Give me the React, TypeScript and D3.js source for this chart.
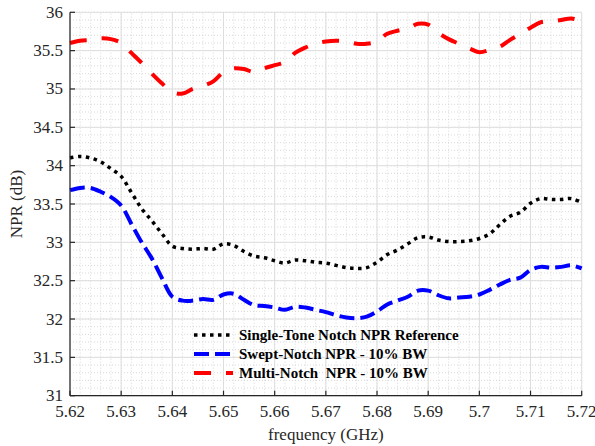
import React from "react";
import * as d3 from "d3";

// Frequency grid (GHz), 2 MHz steps
const freqs: number[] = [
  5.62, 5.622, 5.624, 5.626, 5.628, 5.63, 5.632, 5.634, 5.636, 5.638,
  5.64, 5.642, 5.644, 5.646, 5.648, 5.65, 5.652, 5.654, 5.656, 5.658,
  5.66, 5.662, 5.664, 5.666, 5.668, 5.67, 5.672, 5.674, 5.676, 5.678,
  5.68, 5.682, 5.684, 5.686, 5.688, 5.69, 5.692, 5.694, 5.696, 5.698,
  5.7, 5.702, 5.704, 5.706, 5.708, 5.71, 5.712, 5.714, 5.716, 5.718, 5.72,
];

// NPR (dB)
const singleTone: number[] = [
  34.1, 34.12, 34.1, 34.05, 33.96, 33.86, 33.65, 33.44, 33.28, 33.11,
  32.95, 32.92, 32.91, 32.92, 32.91, 32.98, 32.96, 32.88, 32.82, 32.8,
  32.76, 32.73, 32.77, 32.76, 32.74, 32.73, 32.7, 32.67, 32.66, 32.67,
  32.74, 32.84, 32.9, 32.98, 33.06, 33.07, 33.03, 33.01, 33.01, 33.02,
  33.05, 33.11, 33.23, 33.34, 33.39, 33.51, 33.57, 33.56, 33.56, 33.57, 33.52,
];
const sweptNotch: number[] = [
  33.68, 33.71, 33.71, 33.66, 33.59, 33.48, 33.24, 33.0, 32.79, 32.53,
  32.29, 32.24, 32.24, 32.26, 32.25, 32.32, 32.33, 32.25, 32.18, 32.17,
  32.15, 32.12, 32.16, 32.15, 32.12, 32.09, 32.05, 32.02, 32.01, 32.03,
  32.1, 32.19, 32.24, 32.29, 32.37, 32.37, 32.31, 32.27, 32.28, 32.29,
  32.32, 32.38, 32.45, 32.51, 32.54, 32.64, 32.68, 32.67, 32.68, 32.7, 32.66,
];
const multiNotch: number[] = [
  35.6, 35.63, 35.64, 35.66, 35.65, 35.6, 35.47, 35.34, 35.2, 35.07,
  34.96, 34.94, 35.0, 35.04, 35.1, 35.22, 35.27, 35.26, 35.22, 35.27,
  35.31, 35.35, 35.47, 35.54, 35.59, 35.62, 35.63, 35.62, 35.59, 35.59,
  35.62, 35.72, 35.76, 35.79, 35.85, 35.84, 35.73, 35.65, 35.59, 35.53,
  35.48, 35.51, 35.55, 35.64, 35.72, 35.8, 35.87, 35.88, 35.9, 35.92, 35.88,
];

const xTicks: number[] = [5.62, 5.63, 5.64, 5.65, 5.66, 5.67, 5.68, 5.69, 5.7, 5.71, 5.72];
const yTicks: number[] = [31, 31.5, 32, 32.5, 33, 33.5, 34, 34.5, 35, 35.5, 36];

const seriesNames: string[] = [
  "Single-Tone Notch NPR Reference",
  "Swept-Notch NPR - 10% BW",
  "Multi-Notch  NPR - 10% BW",
];

const W = 595;
const H = 446;
const m = { left: 70, right: 13.3, top: 12.3, bottom: 50.3 };
const SERIF = "'Liberation Serif', 'Times New Roman', Times, serif";

export default function App() {
  const x = d3.scaleLinear().domain([5.62, 5.72]).range([m.left, W - m.right]);
  const y = d3.scaleLinear().domain([31, 36]).range([H - m.bottom, m.top]);

  const line = d3
    .line<number>()
    .x((_, i) => x(freqs[i]))
    .y((v) => y(v))
    .curve(d3.curveCatmullRom.alpha(0.5));

  const xMinor = d3.range(5.62, 5.7201, 0.002).map((v) => +v.toFixed(4));
  const yMinor = d3.range(31, 36.001, 0.1).map((v) => +v.toFixed(2));

  const styles = [
    { stroke: "#000000", width: 3.5, dash: "3.5,4.5", data: singleTone },
    { stroke: "#0000ff", width: 4, dash: "15,6", data: sweptNotch },
    { stroke: "#ff0000", width: 4, dash: "17,15", data: multiNotch },
  ];

  const x0 = x.range()[0];
  const x1 = x.range()[1];
  const y0 = y.range()[0];
  const y1 = y.range()[1];
  const txt = { fontFamily: SERIF, whiteSpace: "pre" as const };

  return (
    <svg
      width={W}
      height={H}
      style={{ position: "absolute", left: 0, top: 0, background: "#fff" }}
    >
      <rect x={0} y={0} width={W} height={H} fill="#fff" />
      {/* minor grid */}
      <g stroke="#c8c8c8" strokeWidth={0.7} strokeDasharray="1,2">
        {xMinor.map((v) => (
          <line key={"xm" + v} x1={x(v)} x2={x(v)} y1={y0} y2={y1} />
        ))}
        {yMinor.map((v) => (
          <line key={"ym" + v} x1={x0} x2={x1} y1={y(v)} y2={y(v)} />
        ))}
      </g>
      {/* major grid */}
      <g stroke="#dedede" strokeWidth={1}>
        {xTicks.map((v) => (
          <line key={"xg" + v} x1={x(v)} x2={x(v)} y1={y0} y2={y1} />
        ))}
        {yTicks.map((v) => (
          <line key={"yg" + v} x1={x0} x2={x1} y1={y(v)} y2={y(v)} />
        ))}
      </g>

      {/* series */}
      {styles.map((s, i) => (
        <path
          key={i}
          d={line(s.data) ?? ""}
          fill="none"
          stroke={s.stroke}
          strokeWidth={s.width}
          strokeDasharray={s.dash}
          strokeLinejoin="round"
        />
      ))}

      {/* axes */}
      <g stroke="#262626" strokeWidth={1.2}>
        <line x1={x0} x2={x0} y1={y0} y2={y1} />
        <line x1={x0} x2={x1} y1={y0} y2={y0} />
        {xTicks.map((v) => (
          <line key={"xt" + v} x1={x(v)} x2={x(v)} y1={y0} y2={y0 - 5} />
        ))}
        {yTicks.map((v) => (
          <line key={"yt" + v} x1={x0} x2={x0 + 5} y1={y(v)} y2={y(v)} />
        ))}
      </g>

      {/* tick labels */}
      <g fill="#262626">
        {xTicks.map((v) => (
          <text key={"xl" + v} x={x(v)} y={y0 + 21} textAnchor="middle" fontSize={17} style={txt}>
            {d3.format("~g")(v)}
          </text>
        ))}
        {yTicks.map((v) => (
          <text key={"yl" + v} x={x0 - 7} y={y(v) + 5.5} textAnchor="end" fontSize={17} style={txt}>
            {d3.format("~g")(v)}
          </text>
        ))}
      </g>

      {/* axis titles */}
      <text
        x={(x0 + x1) / 2}
        y={440}
        textAnchor="middle"
        fontSize={17}
        fill="#262626"
        style={txt}
      >
        frequency (GHz)
      </text>
      <text
        transform={`translate(22,${(y0 + y1) / 2}) rotate(-90)`}
        textAnchor="middle"
        fontSize={17}
        fill="#262626"
        style={txt}
      >
        NPR (dB)
      </text>

      {/* legend */}
      <g>
        {styles.map((s, i) => {
          const ly = 335 + i * 19;
          return (
            <g key={"lg" + i}>
              <line
                x1={194}
                x2={233}
                y1={ly}
                y2={ly}
                stroke={s.stroke}
                strokeWidth={s.width}
                strokeDasharray={s.dash}
              />
              <text
                x={239}
                y={ly + 5}
                fontSize={15}
                fontWeight="bold"
                fill="#000"
                style={txt}
              >
                {seriesNames[i]}
              </text>
            </g>
          );
        })}
      </g>
    </svg>
  );
}
